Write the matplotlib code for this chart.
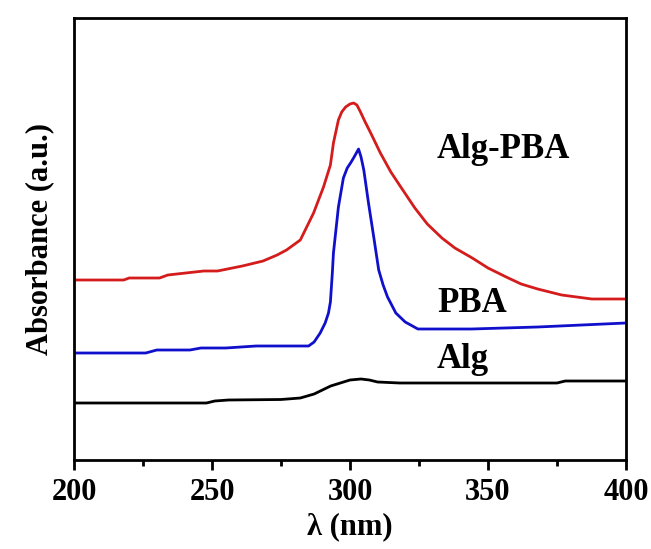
import matplotlib
matplotlib.use("Agg")
import matplotlib.pyplot as plt
from matplotlib.ticker import MultipleLocator

plt.rcParams['font.family'] = ['Liberation Serif', 'DejaVu Serif']
plt.rcParams['font.weight'] = 'bold'

# Wavelength (nm) and absorbance (a.u., offset traces)
alg_x = [200, 248, 251, 256, 275, 282, 287, 293, 300, 304, 307, 310, 318, 375, 378, 400]
alg_y = [0.57, 0.57, 0.59, 0.60, 0.605, 0.62, 0.66, 0.74, 0.80, 0.81, 0.80, 0.78, 0.77, 0.77, 0.79, 0.79]

pba_x = [200, 226, 230, 242, 246, 255, 266, 285, 287, 289.2, 291, 292.2, 292.9, 293.6, 294, 295.8, 297.6,
         299, 300.2, 301.5, 303.1, 304, 305, 306.7, 308.6, 310.4, 312, 313.6, 316.6, 320, 324.6,
         344, 368, 392, 400]
pba_y = [1.07, 1.07, 1.10, 1.10, 1.12, 1.12, 1.14, 1.14, 1.18, 1.27, 1.37, 1.47, 1.58, 1.87, 2.07, 2.53, 2.82,
         2.92, 2.97, 3.03, 3.11, 3.03, 2.90, 2.57, 2.23, 1.90, 1.75, 1.63, 1.47, 1.38, 1.31,
         1.31, 1.33, 1.36, 1.37]

algpba_x = [200, 218, 220, 231, 234, 247, 252, 261, 268.5, 273.6, 277, 282, 286.8, 290.4, 292.9,
            294, 295.8, 297, 298.4, 300, 301.3, 302.5, 303.8, 305.5, 307.5, 311, 314.8, 318.4, 323.5,
            328, 333.3, 338, 344.3, 350, 356.6, 362, 368, 376.7, 387.6, 400]
algpba_y = [1.80, 1.80, 1.82, 1.82, 1.85, 1.89, 1.89, 1.94, 1.99, 2.05, 2.10, 2.20, 2.47, 2.73, 2.95,
            3.17, 3.40, 3.48, 3.53, 3.56, 3.57, 3.55, 3.48, 3.38, 3.27, 3.07, 2.88, 2.73, 2.52,
            2.36, 2.22, 2.12, 2.02, 1.92, 1.83, 1.76, 1.71, 1.65, 1.61, 1.61]

labels = ["Alg-PBA", "PBA", "Alg"]
label_x = [331.5, 331.5, 331.5]
label_y = [3.02, 1.48, 0.92]

fig = plt.figure(figsize=(6.51, 5.49), dpi=100)
ax = fig.add_axes([74/651, 89/549, 552/651, 442/549])

ax.plot(algpba_x, algpba_y, color='#d41c1c', lw=2.0)
ax.plot(pba_x, pba_y, color='#1010cc', lw=2.0)
ax.plot(alg_x, alg_y, color='black', lw=2.0)

for t, x, y in zip(labels, label_x, label_y):
    ax.text(x, y, t, fontsize=25, fontweight='bold', ha='left', va='baseline')

ax.set_xlim(200, 400)
ax.set_ylim(0, 4.42)
ax.set_yticks([])
ax.xaxis.set_major_locator(MultipleLocator(50))
ax.xaxis.set_minor_locator(MultipleLocator(25))
ax.tick_params(axis='x', which='major', direction='out', length=7, width=2, labelsize=22, pad=6)
ax.tick_params(axis='x', which='minor', direction='out', length=4, width=2)
for lab in ax.get_xticklabels():
    lab.set_fontweight('bold')
for s in ax.spines.values():
    s.set_linewidth(2)

ax.set_xlabel('λ (nm)', fontsize=22, fontweight='bold', labelpad=4)
ax.set_ylabel('Absorbance (a.u.)', fontsize=22, fontweight='bold', labelpad=14)

fig.savefig('out.png', dpi=100)
